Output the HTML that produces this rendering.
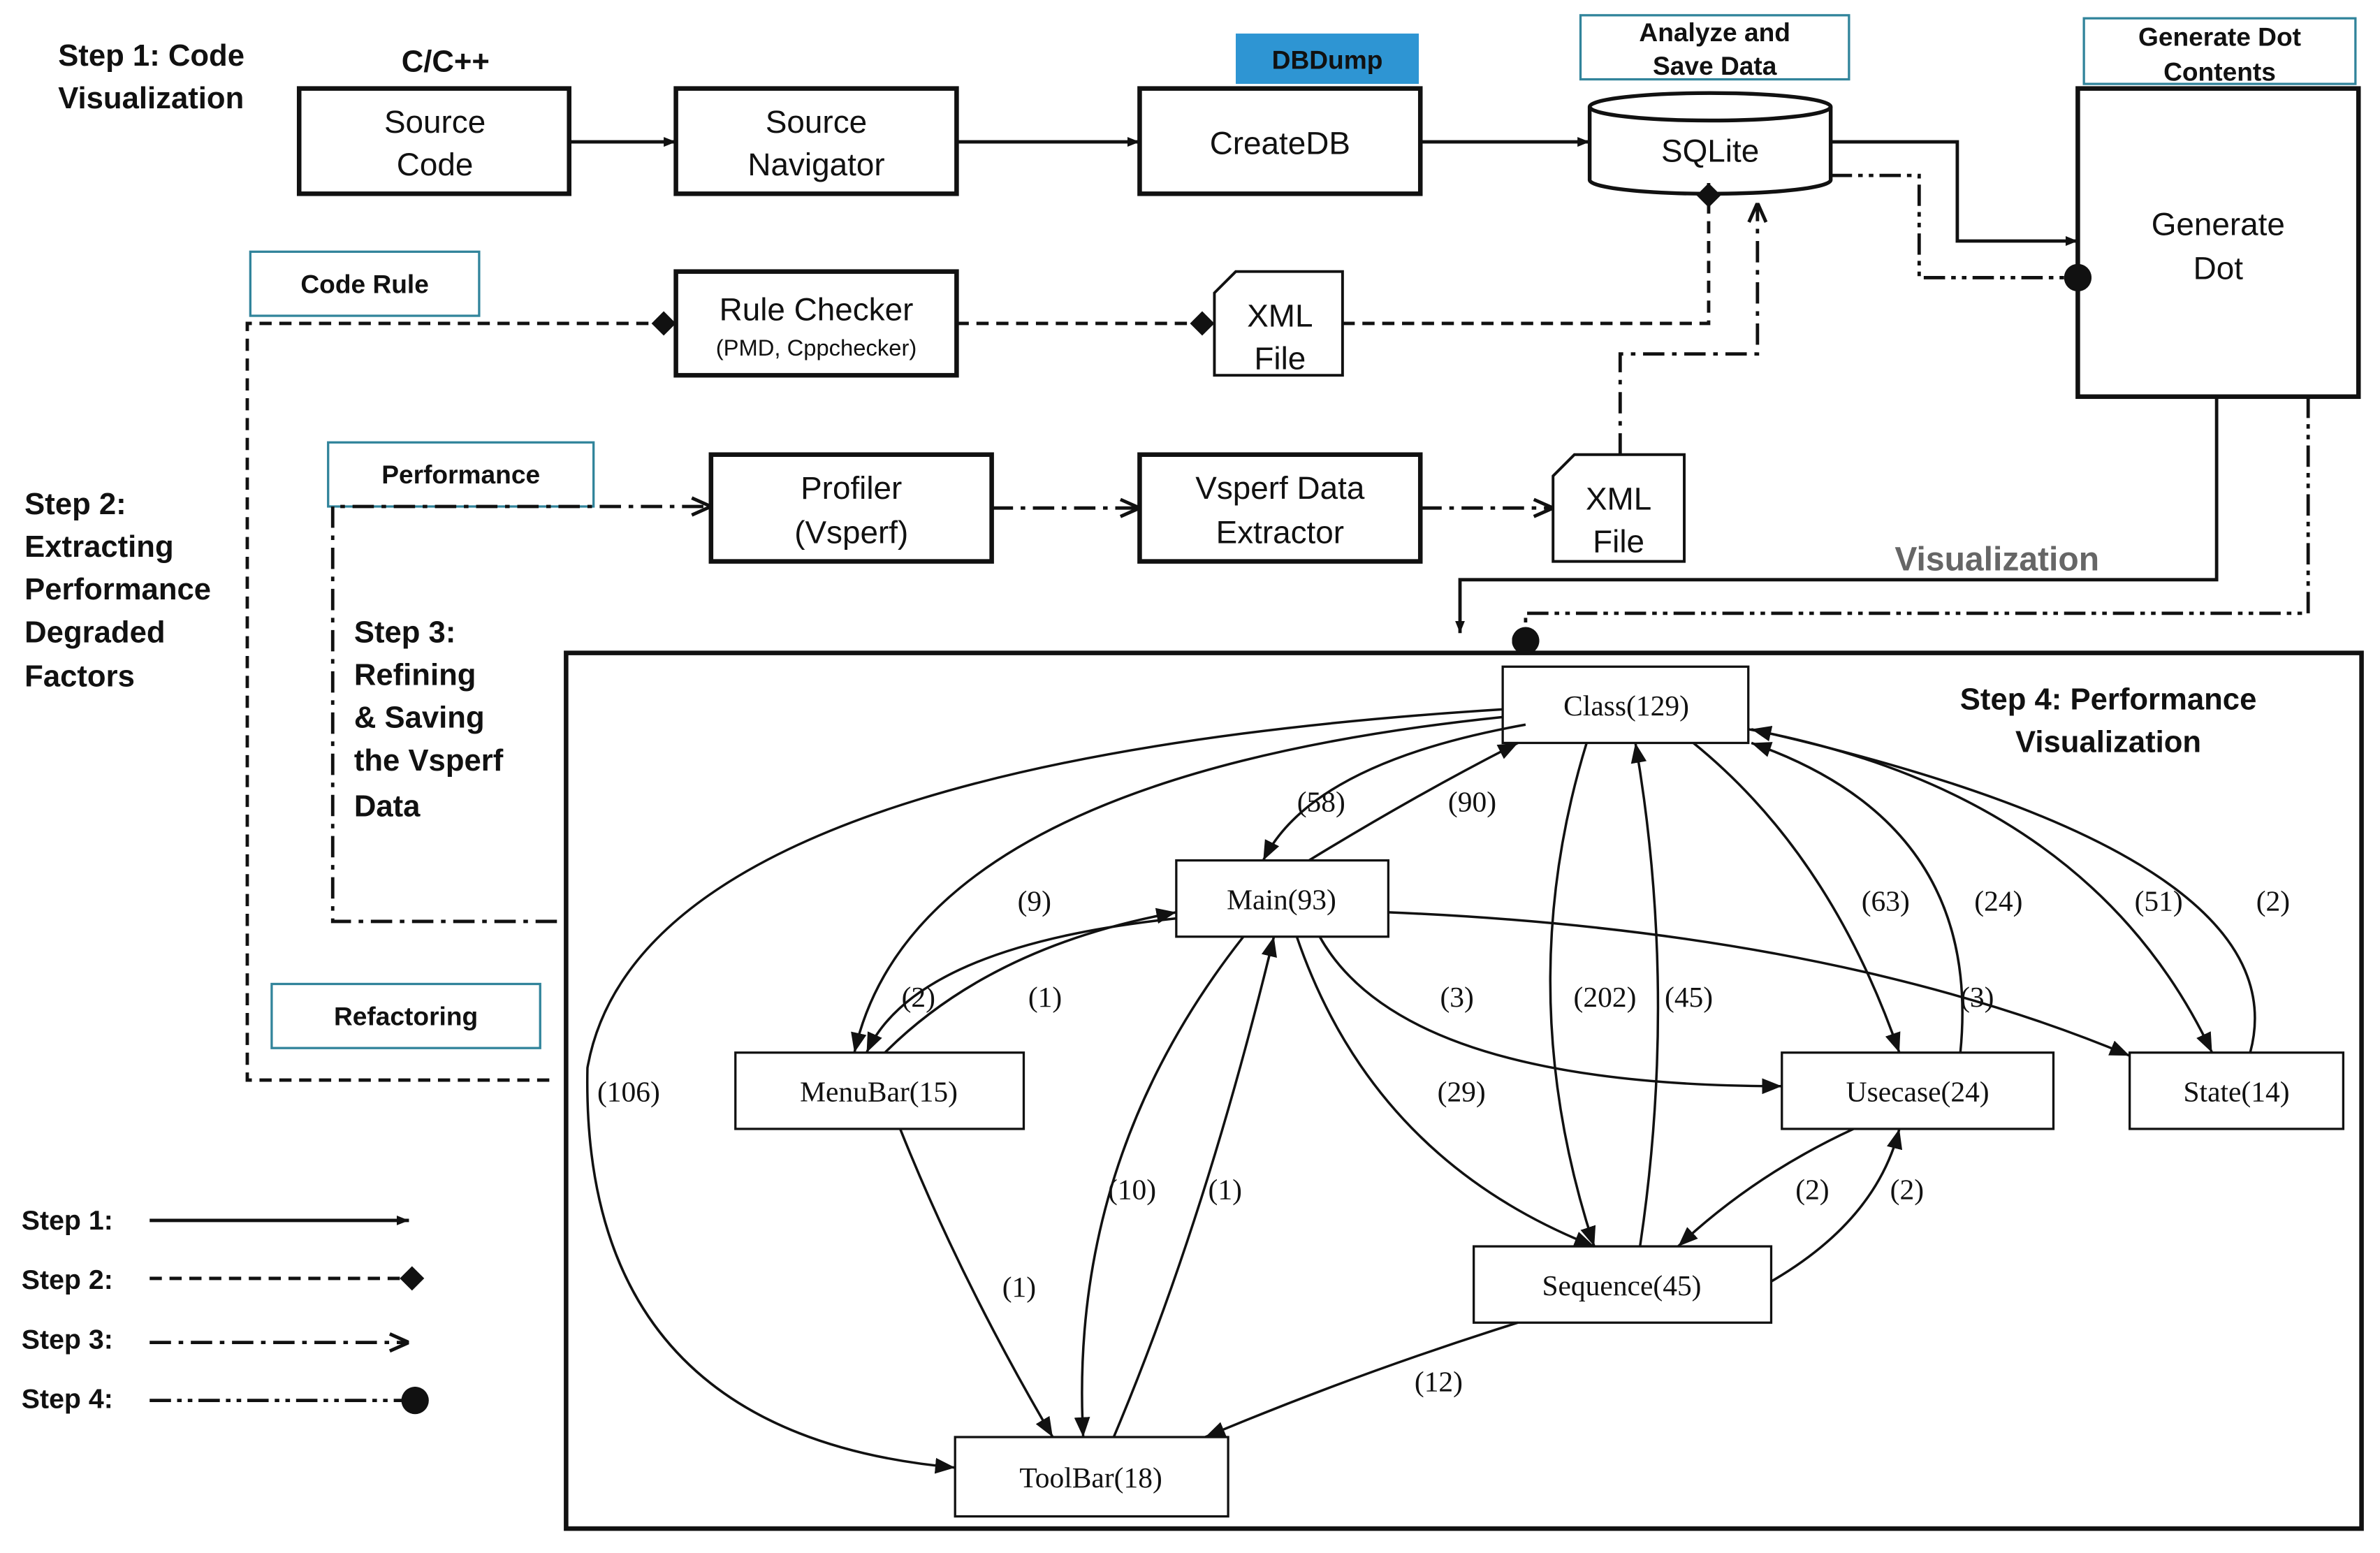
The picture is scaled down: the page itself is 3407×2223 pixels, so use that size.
<!DOCTYPE html>
<html><head><meta charset="utf-8"><style>
html,body{margin:0;padding:0;background:#fff}
svg{display:block}
.b{font-family:"Liberation Sans",sans-serif;font-weight:bold;fill:#111}
.s{font-family:"Liberation Sans",sans-serif;fill:#111}
.g{font-family:"Liberation Serif",serif;fill:#111}
</style></head><body>
<svg width="3407" height="2223" viewBox="0 0 1560 1018" xmlns="http://www.w3.org/2000/svg">
<defs>
<marker id="a" viewBox="0 0 10 10" refX="10" refY="5" markerWidth="8" markerHeight="8" orient="auto" markerUnits="userSpaceOnUse"><path d="M0,1 L10,5 L0,9 z" fill="#111"/></marker>
<marker id="ga" viewBox="0 0 10 10" refX="10" refY="5" markerWidth="13" markerHeight="13" orient="auto" markerUnits="userSpaceOnUse"><path d="M0,1 L10,5 L0,9 z" fill="#111"/></marker>
<marker id="o" viewBox="0 0 10 10" refX="10" refY="5" markerWidth="14" markerHeight="14" orient="auto" markerUnits="userSpaceOnUse"><path d="M1,1 L10,5 L1,9" fill="none" stroke="#111" stroke-width="1.6"/></marker>
<marker id="d" viewBox="0 0 10 10" refX="10" refY="5" markerWidth="16" markerHeight="16" orient="auto" markerUnits="userSpaceOnUse"><path d="M0,5 L5,0 L10,5 L5,10 z" fill="#111"/></marker>
<marker id="c" viewBox="0 0 10 10" refX="5" refY="5" markerWidth="18" markerHeight="18" orient="auto" markerUnits="userSpaceOnUse"><circle cx="5" cy="5" r="5" fill="#111"/></marker>
</defs>
<g class="b" font-size="20">
<text x="38" y="43">Step 1: Code</text><text x="38" y="71">Visualization</text>
<text x="292" y="47" text-anchor="middle">C/C++</text>
<text x="16" y="337">Step 2:</text><text x="16" y="365">Extracting</text><text x="16" y="393">Performance</text><text x="16" y="421">Degraded</text><text x="16" y="450">Factors</text>
<text x="232" y="421">Step 3:</text><text x="232" y="449">Refining</text><text x="232" y="477">&amp; Saving</text><text x="232" y="505">the Vsperf</text><text x="232" y="535">Data</text>
<text x="1382" y="465" text-anchor="middle">Step 4: Performance</text><text x="1382" y="493" text-anchor="middle">Visualization</text>
<text x="1242" y="374" fill="#666" style="fill:#666" font-size="22">Visualization</text>
</g>
<g fill="#fff" stroke="#111" stroke-width="3">
<rect x="196" y="58" width="177" height="69"/><rect x="443" y="58" width="184" height="69"/><rect x="747" y="58" width="184" height="69"/>
<rect x="1362" y="58" width="184" height="202"/>
<rect x="443" y="178" width="184" height="68"/><rect x="466" y="298" width="184" height="70"/><rect x="747" y="298" width="184" height="70"/>
<rect x="371" y="428" width="1177" height="574" fill="none"/>
</g>
<rect x="810" y="22" width="120" height="33" fill="#2e95d3"/>
<g fill="#fff" stroke="#31849b" stroke-width="1.5">
<rect x="1036" y="10" width="176" height="42"/><rect x="1366" y="12" width="178" height="43"/>
<rect x="164" y="165" width="150" height="42"/><rect x="215" y="290" width="174" height="42"/><rect x="178" y="645" width="176" height="42"/>
</g>
<path d="M1042,70 L1042,118 A79,9 0 0 0 1200,118 L1200,70" fill="#fff" stroke="#111" stroke-width="2.5"/>
<ellipse cx="1121" cy="70" rx="79" ry="9" fill="#fff" stroke="#111" stroke-width="2.5"/>
<g fill="#fff" stroke="#111" stroke-width="1.8">
<path d="M810,178 L880,178 L880,246 L796,246 L796,192 z"/><path d="M1032,298 L1104,298 L1104,368 L1018,368 L1018,312 z"/>
</g>
<g class="s" font-size="21" text-anchor="middle">
<text x="285" y="87">Source</text><text x="285" y="115">Code</text>
<text x="535" y="87">Source</text><text x="535" y="115">Navigator</text>
<text x="839" y="101">CreateDB</text>
<text x="1121" y="106">SQLite</text>
<text x="1454" y="154">Generate</text><text x="1454" y="183">Dot</text>
<text x="535" y="210">Rule Checker</text><text x="535" y="233" font-size="15">(PMD, Cppchecker)</text>
<text x="839" y="214">XML</text><text x="839" y="242">File</text>
<text x="558" y="327">Profiler</text><text x="558" y="356">(Vsperf)</text>
<text x="839" y="327">Vsperf Data</text><text x="839" y="356">Extractor</text>
<text x="1061" y="334">XML</text><text x="1061" y="362">File</text>
</g>
<g class="b" font-size="17" text-anchor="middle">
<text x="870" y="45">DBDump</text>
<text x="1124" y="27">Analyze and</text><text x="1124" y="49">Save Data</text>
<text x="1455" y="30">Generate Dot</text><text x="1455" y="53">Contents</text>
<text x="239" y="192">Code Rule</text><text x="302" y="317">Performance</text><text x="266" y="672">Refactoring</text>
<text x="44" y="806" font-size="18">Step 1:</text><text x="44" y="845" font-size="18">Step 2:</text><text x="44" y="884" font-size="18">Step 3:</text><text x="44" y="923" font-size="18">Step 4:</text>
</g>
<g fill="none" stroke="#111" stroke-width="2.2">
<path d="M373,93 H443" marker-end="url(#a)"/><path d="M627,93 H747" marker-end="url(#a)"/><path d="M931,93 H1042" marker-end="url(#a)"/>
<path d="M1200,93 H1283 V158 H1362" marker-end="url(#a)"/>
<path d="M1453,260 V380 H957 V415" marker-end="url(#a)"/>
<path d="M98,800 H268" marker-end="url(#a)"/>
</g>
<g fill="none" stroke="#111" stroke-width="2.2" stroke-dasharray="8,5">
<path d="M360,708 H162 V212 H443" marker-end="url(#d)"/>
<path d="M627,212 H796" marker-end="url(#d)"/>
<path d="M880,212 H1120 V120" marker-end="url(#d)"/>
<path d="M98,838 H278" marker-end="url(#d)"/>
</g>
<g fill="none" stroke="#111" stroke-width="2.2" stroke-dasharray="14,5,3,5">
<path d="M365,604 H218 V332 H466" marker-end="url(#o)"/>
<path d="M650,333 H747" marker-end="url(#o)"/><path d="M931,333 H1018" marker-end="url(#o)"/>
<path d="M1062,298 V232 H1152 V133" marker-end="url(#o)"/>
<path d="M98,880 H268" marker-end="url(#o)"/>
</g>
<g fill="none" stroke="#111" stroke-width="2.2" stroke-dasharray="14,4,3,4,3,4">
<path d="M1200,115 H1258 V182 H1362" marker-end="url(#c)"/>
<path d="M1513,260 V402 H1000 V420" marker-end="url(#c)"/>
<path d="M98,918 H272" marker-end="url(#c)"/>
</g>
<g fill="#fff" stroke="#111" stroke-width="1.5">
<rect x="985" y="437" width="161" height="50"/><rect x="771" y="564" width="139" height="50"/>
<rect x="482" y="690" width="189" height="50"/><rect x="1168" y="690" width="178" height="50"/>
<rect x="1396" y="690" width="140" height="50"/><rect x="966" y="817" width="195" height="50"/>
<rect x="626" y="942" width="179" height="52"/>
</g>
<g class="g" font-size="19" text-anchor="middle">
<text x="1066" y="469">Class(129)</text><text x="840" y="596">Main(93)</text><text x="576" y="722">MenuBar(15)</text>
<text x="1257" y="722">Usecase(24)</text><text x="1466" y="722">State(14)</text><text x="1063" y="849">Sequence(45)</text>
<text x="715" y="975">ToolBar(18)</text>
</g>
<g fill="none" stroke="#111" stroke-width="1.6">
<path d="M1000,475 Q860,500 828,564" marker-end="url(#ga)"/>
<path d="M858,564 Q930,520 995,487" marker-end="url(#ga)"/>
<path d="M985,470 Q600,510 560,690" marker-end="url(#ga)"/>
<path d="M580,690 Q650,620 771,598" marker-end="url(#ga)"/>
<path d="M771,602 Q600,620 568,690" marker-end="url(#ga)"/>
<path d="M985,465 Q420,500 385,700 Q380,940 626,962" marker-end="url(#ga)"/>
<path d="M815,614 Q700,760 710,942" marker-end="url(#ga)"/>
<path d="M730,942 Q790,800 835,614" marker-end="url(#ga)"/>
<path d="M590,740 Q630,840 690,942" marker-end="url(#ga)"/>
<path d="M850,614 Q900,760 1045,817" marker-end="url(#ga)"/>
<path d="M865,614 Q920,712 1168,712" marker-end="url(#ga)"/>
<path d="M910,598 Q1200,610 1396,692" marker-end="url(#ga)"/>
<path d="M1040,487 Q990,650 1045,817" marker-end="url(#ga)"/>
<path d="M1075,817 Q1100,650 1072,487" marker-end="url(#ga)"/>
<path d="M1110,487 Q1200,560 1245,690" marker-end="url(#ga)"/>
<path d="M1285,690 Q1300,540 1148,487" marker-end="url(#ga)"/>
<path d="M1146,478 Q1370,520 1450,690" marker-end="url(#ga)"/>
<path d="M1475,690 Q1510,560 1148,478" marker-end="url(#ga)"/>
<path d="M1215,740 Q1150,770 1100,817" marker-end="url(#ga)"/>
<path d="M1161,840 Q1230,800 1245,740" marker-end="url(#ga)"/>
<path d="M995,867 Q890,900 790,942" marker-end="url(#ga)"/>
</g>
<g class="g" font-size="19" text-anchor="middle">
<text x="866" y="532">(58)</text><text x="965" y="532">(90)</text><text x="678" y="597">(9)</text>
<text x="685" y="660">(1)</text><text x="602" y="660">(2)</text><text x="412" y="722">(106)</text>
<text x="742" y="786">(10)</text><text x="803" y="786">(1)</text><text x="668" y="850">(1)</text>
<text x="958" y="722">(29)</text><text x="955" y="660">(3)</text><text x="1296" y="660">(3)</text>
<text x="1052" y="660">(202)</text><text x="1107" y="660">(45)</text><text x="1236" y="597">(63)</text>
<text x="1310" y="597">(24)</text><text x="1415" y="597">(51)</text><text x="1490" y="597">(2)</text>
<text x="1188" y="786">(2)</text><text x="1250" y="786">(2)</text><text x="943" y="912">(12)</text>
</g>
</svg>
</body></html>
